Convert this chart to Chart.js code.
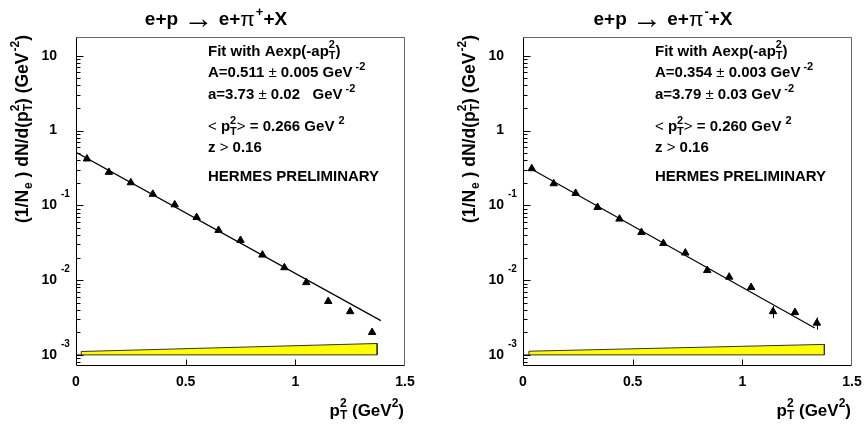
<!DOCTYPE html>
<html>
<head>
<meta charset="utf-8">
<script src="https://cdn.jsdelivr.net/npm/chart.js@4.4.1/dist/chart.umd.min.js"></script>
<style>
html, body { margin: 0; padding: 0; background: #fff; overflow: hidden; width: 864px; height: 429px; }
canvas { position: absolute; top: 0; }
#left { left: 0; }
#right { left: 447px; }
</style>
</head>
<body>
<canvas id="left" width="432" height="429"></canvas>
<canvas id="right" width="432" height="429"></canvas>
<script>
// pi+ panel
const ptPlus = [0.05, 0.15, 0.25, 0.35, 0.45, 0.55, 0.65, 0.75, 0.85, 0.95, 1.05, 1.15, 1.25, 1.35];
const yPlus = [0.418, 0.277, 0.201, 0.141, 0.102, 0.069, 0.0464, 0.0341, 0.0217, 0.0147, 0.0093, 0.0052, 0.0038, 0.0020];
const errPlus = [0.003, 0.002, 0.0015, 0.001, 0.0008, 0.0006, 0.0005, 0.0004, 0.0003, 0.00025, 0.0002, 0.00015, 0.00015, 0.00015];
const fitPlusX = [0, 1.39];
const fitPlusY = [0.511, 0.00287];
const bandPlusX = [0, 0.024, 0.024, 1.373, 1.373];
const bandPlusY = [0.001, 0.001, 0.00111, 0.00142, 0.001];

// pi- panel
const ptMinus = [0.04, 0.14, 0.24, 0.34, 0.44, 0.54, 0.64, 0.74, 0.84, 0.94, 1.04, 1.14, 1.24, 1.34];
const yMinus = [0.31, 0.195, 0.145, 0.094, 0.0657, 0.0435, 0.031, 0.0231, 0.0135, 0.011, 0.008, 0.0038, 0.0037, 0.00267];
const errMinus = [0.003, 0.002, 0.0015, 0.001, 0.0008, 0.0006, 0.0005, 0.0004, 0.0004, 0.0004, 0.0004, 0.0007, 0.0003, 0.0005];
const fitMinusX = [0.04, 1.33];
const fitMinusY = [0.304, 0.00229];
const bandMinusX = [0, 0.027, 0.027, 1.374, 1.374];
const bandMinusY = [0.001, 0.001, 0.00112, 0.00138, 0.001];

const bandBase = 0.001;
const xTicks = [0, 0.5, 1, 1.5];
const yDecades = [-3, -2, -1, 0, 1];

const FONT = '"Liberation Sans", Arial, Helvetica, sans-serif';
function font(size, bold) { return (bold ? 'bold ' : '') + size + 'px ' + FONT; }

// parts: plain string = bold text, {t, normal, k} = text, {sup, sub, gap} = scripts
function partFont(p, size) {
    if (typeof p === 'string') return font(size, true);
    if (p.t !== undefined) return font(Math.round(size * (p.k || 1)), !p.normal);
    return font(Math.round(size * 0.7), true);
}
function partWidth(ctx, p, size) {
    ctx.font = partFont(p, size);
    if (typeof p === 'string') return ctx.measureText(p).width;
    if (p.t !== undefined) return ctx.measureText(p.t).width;
    const a = p.sup ? ctx.measureText(p.sup).width : 0;
    const b = p.sub ? ctx.measureText(p.sub).width : 0;
    return Math.max(a, b) + (p.gap || 0);
}

function drawRich(ctx, parts, x, y, size, align) {
    const w = parts.reduce((s, p) => s + partWidth(ctx, p, size), 0);
    let cx = align === 'center' ? x - w / 2 : align === 'right' ? x - w : x;
    ctx.textBaseline = 'middle';
    ctx.textAlign = 'left';
    ctx.fillStyle = '#000';
    for (const p of parts) {
        const pw = partWidth(ctx, p, size);
        ctx.font = partFont(p, size);
        if (typeof p === 'string' || p.t !== undefined) {
            ctx.fillText(typeof p === 'string' ? p : p.t, cx, y);
        } else {
            const g = p.gap || 0;
            if (p.sup) ctx.fillText(p.sup, cx + g, y - size * 0.42);
            if (p.sub) ctx.fillText(p.sub, cx + g, y + size * 0.3);
        }
        cx += pw;
    }
}

const yTitle = ['(1/N', { sub: 'e', gap: 1 }, ' ) dN/d(p', { sup: '2', sub: 'T' }, ') (GeV', { sup: '-2', gap: 1 }, ')'];
const xTitle = ['p', { sup: '2', sub: 'T' }, ' (GeV', { sup: '2' }, ')'];

function notes(A, dA, a, da, mean, pad) {
    return [
        ['Fit with Aexp(-ap', { sup: '2', sub: 'T' }, ')'],
        ['A=' + A + ' ', { t: '±', normal: true }, ' ' + dA + ' GeV', { sup: '-2', gap: 3 }],
        ['a=' + a + ' ', { t: '±', normal: true }, ' ' + da + pad + 'GeV', { sup: '-2', gap: 3 }],
        [{ t: '<', normal: true }, ' p', { sup: '2', sub: 'T' }, { t: '>', normal: true }, ' = ' + mean + ' GeV', { sup: '2', gap: 4 }],
        ['z ', { t: '>', normal: true }, ' 0.16'],
        ['HERMES PRELIMINARY']
    ];
}
const noteY = [51.7, 73.3, 95, 127, 148, 176.7];

function framePlugin(title, lines) {
    return {
        id: 'frame',
        afterDatasetsDraw(chart) {
            const ctx = chart.ctx;
            const ys = chart.scales.y;
            const meta = chart.getDatasetMeta(0);
            const errs = chart.data.datasets[0].errors;
            ctx.save();
            ctx.strokeStyle = '#000';
            ctx.lineWidth = 1;
            meta.data.forEach((pt, i) => {
                const d = chart.data.datasets[0].data[i];
                const top = ys.getPixelForValue(d.y + errs[i]);
                const bot = ys.getPixelForValue(Math.max(d.y - errs[i], 1e-6));
                ctx.beginPath();
                ctx.moveTo(Math.round(pt.x) + 0.5, top);
                ctx.lineTo(Math.round(pt.x) + 0.5, bot);
                ctx.stroke();
            });
            ctx.restore();
        },
        afterDraw(chart) {
            const ctx = chart.ctx;
            const a = chart.chartArea;
            const xs = chart.scales.x;
            const ys = chart.scales.y;
            const L = Math.round(a.left) + 0.5;
            const R = Math.round(a.right) - 0.5;
            const T = Math.round(a.top) + 0.5;
            const B = Math.round(a.bottom) - 0.5;
            ctx.save();
            ctx.lineWidth = 1;
            ctx.strokeStyle = '#666';
            ctx.beginPath();
            ctx.moveTo(L, T); ctx.lineTo(R, T); ctx.lineTo(R, B);
            ctx.stroke();
            ctx.strokeStyle = '#000';
            ctx.beginPath();
            ctx.moveTo(L, T); ctx.lineTo(L, B); ctx.lineTo(R, B);
            ctx.stroke();

            // y ticks
            ctx.beginPath();
            for (let d = -4; d <= 1; d++) {
                for (let m = 1; m <= 9; m++) {
                    const v = m * Math.pow(10, d);
                    if (v < ys.min || v > ys.max) continue;
                    const py = Math.round(ys.getPixelForValue(v)) + 0.5;
                    ctx.moveTo(L, py);
                    ctx.lineTo(L + (m === 1 ? 7 : 4), py);
                }
            }
            // x ticks
            xTicks.forEach(t => {
                if (t <= xs.min || t >= xs.max) return;
                const px = Math.round(xs.getPixelForValue(t)) + 0.5;
                ctx.moveTo(px, B);
                ctx.lineTo(px, B - 6);
            });
            ctx.stroke();

            // y labels
            ctx.fillStyle = '#000';
            ctx.textBaseline = 'middle';
            yDecades.forEach(d => {
                const py = ys.getPixelForValue(Math.pow(10, d));
                ctx.font = font(14, true);
                ctx.textAlign = 'right';
                ctx.fillText(d === 0 ? '1' : '10', a.left - 19, py);
                if (d < 0) {
                    ctx.font = font(10, true);
                    ctx.textAlign = 'left';
                    ctx.fillText(String(d), a.left - 15, py - 11);
                }
            });
            // x labels
            ctx.font = font(14, true);
            ctx.textAlign = 'center';
            xTicks.forEach(t => {
                ctx.fillText(String(t), xs.getPixelForValue(t), 382);
            });

            drawRich(ctx, xTitle, a.right - 1, 411, 17, 'right');
            ctx.save();
            ctx.translate(23, 129);
            ctx.rotate(-Math.PI / 2);
            drawRich(ctx, yTitle, 0, 0, 17.5, 'center');
            ctx.restore();

            drawRich(ctx, title, 216, 20, 19, 'center');
            lines.forEach((ln, i) => drawRich(ctx, ln, 208, noteY[i], 15, 'left'));
            ctx.restore();
        }
    };
}

function pairs(xs, ys) { return xs.map((x, i) => ({ x: x, y: ys[i] })); }

function makeChart(id, px, py, errs, fx, fy, bx, by, title, lines) {
    const last = bx[bx.length - 1];
    return new Chart(document.getElementById(id), {
        type: 'scatter',
        data: {
            datasets: [
                { data: pairs(px, py), errors: errs, pointStyle: 'triangle', pointRadius: 4.3,
                  backgroundColor: '#000', borderColor: '#000', borderWidth: 1, order: 0 },
                { data: pairs(fx, fy), showLine: true, pointRadius: 0, borderColor: '#000',
                  borderWidth: 1.2, fill: false, order: 1 },
                { data: [{ x: bx[1], y: bandBase }, { x: last, y: bandBase }], showLine: true,
                  pointRadius: 0, borderColor: '#333', borderWidth: 1, fill: false, order: 2 },
                { data: pairs(bx, by), showLine: true, pointRadius: 0, borderColor: '#333',
                  borderWidth: 1, backgroundColor: '#ffff00', fill: { value: bandBase }, order: 3 }
            ]
        },
        options: {
            responsive: false,
            animation: false,
            layout: { padding: { top: 37, right: 27, left: 0, bottom: 0 } },
            plugins: { legend: { display: false }, tooltip: { enabled: false }, filler: { propagate: false } },
            scales: {
                x: { type: 'linear', min: 0, max: 1.5,
                     grid: { display: false, drawTicks: false }, border: { display: false },
                     ticks: { display: false }, afterFit: s => { s.height = 63; } },
                y: { type: 'logarithmic', min: 7.1e-4, max: 17.8,
                     grid: { display: false, drawTicks: false }, border: { display: false },
                     ticks: { display: false }, afterFit: s => { s.width = 76; } }
            }
        },
        plugins: [framePlugin(title, lines)]
    });
}

const titlePlus = ['e+p ', { t: '→', normal: true, k: 1.6 }, ' e+', { t: 'π', normal: true, k: 1.1 }, { sup: '+', gap: 1 }, '+X'];
const titleMinus = ['e+p ', { t: '→', normal: true, k: 1.6 }, ' e+', { t: 'π', normal: true, k: 1.1 }, { sup: '-', gap: 1 }, '+X'];

makeChart('left', ptPlus, yPlus, errPlus, fitPlusX, fitPlusY, bandPlusX, bandPlusY,
    titlePlus, notes('0.511', '0.005', '3.73', '0.02', '0.266', '   '));
makeChart('right', ptMinus, yMinus, errMinus, fitMinusX, fitMinusY, bandMinusX, bandMinusY,
    titleMinus, notes('0.354', '0.003', '3.79', '0.03', '0.260', ' '));
</script>
</body>
</html>
